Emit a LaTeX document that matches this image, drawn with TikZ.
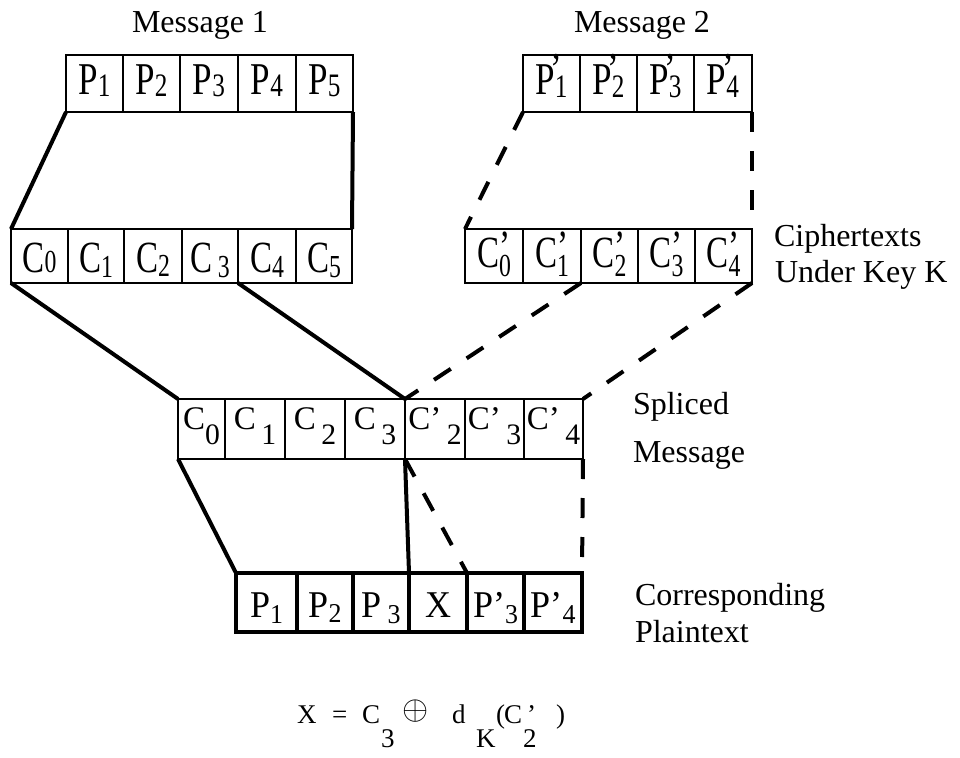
\documentclass[tikz,border=0pt]{standalone}
\usepackage{fontspec}
\setmainfont{Liberation Serif}
\usepackage{graphicx}
\usetikzlibrary{calc}

\newcommand{\sbs}[3][0.72]{\raisebox{#2}{\scalebox{#1}{#3}}}
\newcommand{\vs}[2]{\scalebox{1}[#1]{#2}}
\newcommand{\stk}[4]{\makebox[0pt][l]{\hspace{#1}\raisebox{#2}{’}}\raisebox{#3}{\scalebox{0.72}{#4}}}

\tikzset{
  cellbase/.style={draw, inner sep=0pt, outer sep=0pt, line join=miter},
  mcell/.style={cellbase, line width=2pt, minimum height=57pt, text height=23pt, text depth=0pt, font=\fontsize{35}{35}\selectfont},
  ccell/.style={cellbase, line width=2.5pt, minimum height=54pt, text height=32pt, text depth=0pt, font=\fontsize{33}{33}\selectfont},
  crcell/.style={cellbase, line width=2.5pt, minimum height=54pt, text height=22pt, text depth=0pt, font=\fontsize{33}{33}\selectfont},
  scell/.style={cellbase, line width=1.3pt, minimum height=60pt, text height=15pt, text depth=15pt, font=\fontsize{33}{33}\selectfont},
  pcell/.style={cellbase, line width=4pt, minimum height=59pt, text height=29pt, text depth=0pt, font=\fontsize{36}{36}\selectfont},
  lbl/.style={inner sep=0pt, outer sep=0pt, font=\fontsize{32}{32}\selectfont},
  fml/.style={inner sep=0pt, outer sep=0pt, anchor=base west, font=\fontsize{27}{27}\selectfont},
  link/.style={line width=4pt},
  dlink/.style={line width=4pt, dash pattern=on 20pt off 19pt},
}

\begin{document}
\begin{tikzpicture}[x=1pt,y=-1pt]
\useasboundingbox (0,0) rectangle (960,757);

% ---- labels
\node[lbl, anchor=base] (lm1) at (200,33) {Message 1};
\node[lbl, anchor=base] (lm2) at (642,33) {Message 2};
\node[lbl, anchor=base west] (lct) at (774,246) {Ciphertexts};
\node[lbl, anchor=base west] (luk) at (775,282) {Under Key K};
\node[lbl, anchor=base west] (lsp) at (633,414) {Spliced};
\node[lbl, anchor=base west] (lms) at (633,462) {Message};
\node[lbl, anchor=base west] (lco) at (635,605) {Corresponding};
\node[lbl, anchor=base west] (lpl) at (635,642) {Plaintext};

% ---- Message 1
\node[mcell, minimum width=57pt] (a1) at (94.5,83.5) {\vs{1.3}{P\sbs{-1.5pt}{1}}};
\node[mcell, minimum width=57pt] (a2) at (151.5,83.5) {\vs{1.3}{P\sbs{-1.5pt}{2}}};
\node[mcell, minimum width=58pt] (a3) at (209,83.5) {\vs{1.3}{P\sbs{-1.5pt}{3}}};
\node[mcell, minimum width=58pt] (a4) at (267,83.5) {\vs{1.3}{P\sbs{-1.5pt}{4}}};
\node[mcell, minimum width=57pt] (a5) at (324.5,83.5) {\vs{1.3}{P\sbs{-1.5pt}{5}}};

% ---- Message 2
\node[mcell, minimum width=57pt] (b1) at (551.5,83.5) {\vs{1.3}{P\stk{-4pt}{8pt}{-2pt}{1}}};
\node[mcell, minimum width=57pt] (b2) at (608.5,83.5) {\vs{1.3}{P\stk{-4pt}{8pt}{-2pt}{2}}};
\node[mcell, minimum width=57pt] (b3) at (665.5,83.5) {\vs{1.3}{P\stk{-4pt}{8pt}{-2pt}{3}}};
\node[mcell, minimum width=58pt] (b4) at (723,83.5) {\vs{1.3}{P\stk{-4pt}{8pt}{-2pt}{4}}};

% ---- Ciphertexts, message 1
\node[ccell, minimum width=57pt] (c0) at (39.5,256) {\vs{1.35}{C\sbs{0pt}{0}}};
\node[ccell, minimum width=56pt] (c1) at (96,256) {\vs{1.35}{C\sbs{-4pt}{1}}};
\node[ccell, minimum width=58pt] (c2) at (153,256) {\vs{1.35}{C\sbs{-3pt}{2}}};
\node[ccell, minimum width=56pt] (c3) at (210,256) {\vs{1.35}{C\,\sbs{-4pt}{3}}};
\node[ccell, minimum width=58pt] (c4) at (267,256) {\vs{1.35}{C\sbs{-4pt}{4}}};
\node[ccell, minimum width=56pt] (c5) at (324,256) {\vs{1.35}{C\sbs{-4pt}{5}}};

% ---- Ciphertexts, message 2
\node[crcell, minimum width=58pt] (d0) at (494,256) {\vs{1.35}{C\stk{0pt}{4pt}{-7pt}{0}}};
\node[crcell, minimum width=58pt] (d1) at (552,256) {\vs{1.35}{C\stk{0pt}{4pt}{-7pt}{1}}};
\node[crcell, minimum width=57pt] (d2) at (609.5,256) {\vs{1.35}{C\stk{0pt}{4pt}{-7pt}{2}}};
\node[crcell, minimum width=57pt] (d3) at (666.5,256) {\vs{1.35}{C\stk{0pt}{4pt}{-7pt}{3}}};
\node[crcell, minimum width=57pt] (d4) at (723.5,256) {\vs{1.35}{C\stk{0pt}{4pt}{-7pt}{4}}};

% ---- Spliced message
\node[scell, minimum width=47pt] (s0) at (201.5,429) {C\sbs[0.9]{-15pt}{0}};
\node[scell, minimum width=60pt] (s1) at (255,429) {C\,\sbs[0.9]{-15pt}{1}};
\node[scell, minimum width=60pt] (s2) at (315,429) {C\,\sbs[0.9]{-15pt}{2}};
\node[scell, minimum width=60pt] (s3) at (375,429) {C\,\sbs[0.9]{-15pt}{3}};
\node[scell, minimum width=60pt] (s4) at (435,429) {C’\,\sbs[0.9]{-15pt}{2}};
\node[scell, minimum width=59pt] (s5) at (494.5,429) {C’\,\sbs[0.9]{-15pt}{3}};
\node[scell, minimum width=59pt] (s6) at (553.5,429) {C’\,\sbs[0.9]{-15pt}{4}};

% ---- Corresponding plaintext
\node[pcell, minimum width=61pt] (p1) at (266.5,602.5) {\vs{1.05}{P\sbs{-6pt}{1}}};
\node[pcell, minimum width=56pt] (p2) at (325,602.5) {\vs{1.05}{P\sbs{-5pt}{2}}};
\node[pcell, minimum width=56pt] (p3) at (381,602.5) {\vs{1.05}{P\,\sbs{-6pt}{3}}};
\node[pcell, minimum width=58pt] (px) at (438,602.5) {\vs{1.05}{X}};
\node[pcell, minimum width=57pt] (p4) at (495.5,602.5) {\vs{1.05}{P’\sbs{-6pt}{3}}};
\node[pcell, minimum width=58pt] (p5) at (553,602.5) {\vs{1.05}{P’\sbs{-6pt}{4}}};

% ---- solid connectors
\draw[link] (a1.south west) -- (c0.north west);
\draw[link] (a5.south east) -- (c5.north east);
\draw[link] (c0.south west) -- (s0.north west);
\draw[link] (c4.south west) -- (s4.north west);
\draw[link] (s0.south west) -- (p1.north west);
\draw[link] (s4.south west) -- (px.north west);

% ---- dashed connectors
\draw[dlink] (b1.south west) -- (d0.north west);
\draw[dlink] (b4.south east) -- (d4.north east);
\draw[dlink] (d2.south west) -- (s4.north west);
\draw[dlink] (d4.south east) -- (s6.north east);
\draw[dlink] (s4.south west) -- (p4.north west);
\draw[dlink] (s6.south east) -- (p5.north east);

% ---- formula
\node[fml] (fX) at (297,723) {X};
\node[fml] (fE) at (332,723) {=};
\node[fml] (fC) at (362,723) {C};
\node[fml] (f3) at (381,747) {3};
\node[fml, anchor=center] (fO) at (416,711) {\scalebox{1.35}{$\oplus$}};
\node[fml] (fd) at (452,723) {d};
\node[fml] (fK) at (476,747) {K};
\node[fml] (fL) at (496,723) {(};
\node[fml] (fC2) at (504,723) {C};
\node[fml] (fP) at (527,723) {’};
\node[fml] (f2) at (523,747) {2};
\node[fml] (fR) at (556,723) {)};
\end{tikzpicture}
\end{document}
